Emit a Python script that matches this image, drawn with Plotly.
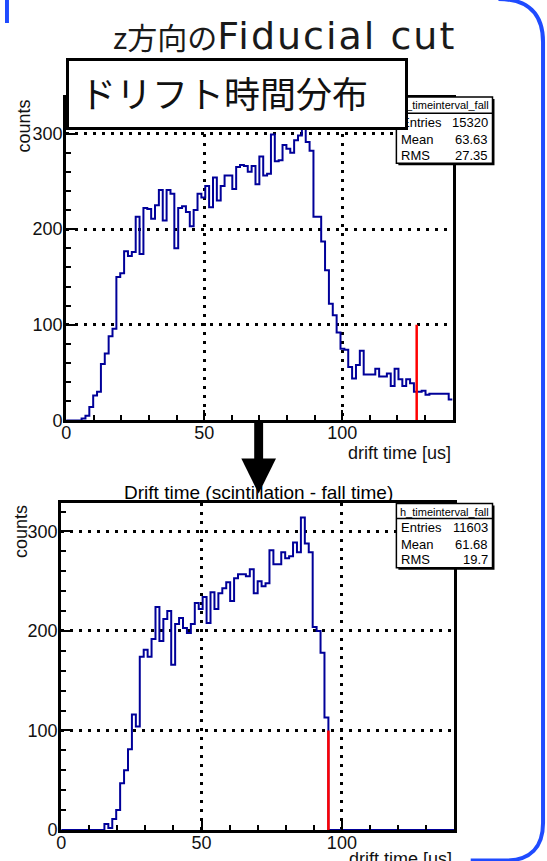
import numpy as np
import plotly.graph_objects as go

W, H = 547, 861          # design (target picture) size in px
FIG_H = 872              # figure height, compensates the vertical squeeze of the capture

# ---------------- data ----------------
n_bins = 100
x_lo, x_hi = 0, 140

top_counts = [0, 0, 0, 0, 2, 5, 14, 26, 30, 59,
              70, 88, 96, 150, 154, 177, 172, 176, 213, 174,
              222, 221, 211, 225, 241, 209, 241, 237, 180, 222,
              224, 218, 203, 220, 237, 233, 245, 223, 254, 230,
              245, 256, 256, 242, 265, 267, 266, 260, 266, 247,
              276, 256, 258, 299, 271, 272, 288, 284, 280, 293,
              298, 306, 291, 282, 213, 213, 187, 157, 122, 110,
              92, 75, 74, 56, 44, 58, 73, 48, 48, 48,
              54, 46, 46, 49, 36, 54, 43, 36, 43, 39,
              30, 30, 31, 27, 28, 28, 28, 28, 28, 22]

bottom_counts = [0, 0, 0, 0, 0, 0, 0, 0, 0, 0,
                 0, 6, 2, 11, 20, 47, 60, 81, 116, 104,
                 174, 181, 174, 192, 224, 190, 212, 220, 166, 207,
                 213, 203, 198, 207, 228, 222, 234, 208, 239, 222,
                 238, 243, 249, 230, 253, 257, 257, 255, 262, 238,
                 250, 245, 248, 281, 267, 267, 279, 273, 275, 289,
                 279, 314, 288, 279, 204, 200, 178, 113, 0, 0,
                 0, 0, 0, 0, 0, 0, 0, 0, 0, 0,
                 0, 0, 0, 0, 0, 0, 0, 0, 0, 0,
                 0, 0, 0, 0, 0, 0, 0, 0, 0, 0]

top_cut_x = 127.0
bottom_cut_x = 95.2
cut_line_height = 100

top_ymax = 337
bottom_ymax = 329

hist_name = "h_timeinterval_fall"
top_stats = [("Entries", "15320"), ("Mean", "63.63"), ("RMS", "27.35")]
bottom_stats = [("Entries", "11603"), ("Mean", "61.68"), ("RMS", "19.7")]

slide_title_jp = "z方向の"
slide_title_en = "Fiducial cut"
box_title = "ドリフト時間分布"
bottom_title = "Drift time (scintillation - fall time)"
x_title = "drift time [us]"
y_title = "counts"

# ---------------- helpers ----------------
def px(x):
    return x / W


def py(y):
    return 1 - y / H


edges = np.linspace(x_lo, x_hi, n_bins + 1)

HIST_COLOR = "#000099"
FONT = "Liberation Sans, Arial, sans-serif"
JFONT = "Noto Sans CJK JP, sans-serif"
BLUE = "#1f4bff"

fig = go.Figure()

fig.add_trace(go.Scatter(
    x=edges, y=list(top_counts) + [top_counts[-1]], mode="lines",
    line=dict(color=HIST_COLOR, width=2, shape="hv"),
    xaxis="x", yaxis="y", showlegend=False, hoverinfo="skip"))
fig.add_trace(go.Scatter(
    x=[top_cut_x, top_cut_x], y=[0, cut_line_height], mode="lines",
    line=dict(color="#ff0000", width=2.5),
    xaxis="x", yaxis="y", showlegend=False, hoverinfo="skip"))

fig.add_trace(go.Scatter(
    x=edges, y=list(bottom_counts) + [bottom_counts[-1]], mode="lines",
    line=dict(color=HIST_COLOR, width=2, shape="hv"),
    xaxis="x2", yaxis="y2", showlegend=False, hoverinfo="skip"))
fig.add_trace(go.Scatter(
    x=[bottom_cut_x, bottom_cut_x], y=[0, cut_line_height], mode="lines",
    line=dict(color="#ff0000", width=2.5),
    xaxis="x2", yaxis="y2", showlegend=False, hoverinfo="skip"))


def xaxis_cfg(domain, anchor):
    return dict(
        domain=domain, anchor=anchor, range=[x_lo, x_hi],
        tickmode="linear", tick0=0, dtick=50,
        ticks="inside", ticklen=10, tickwidth=2, tickcolor="black",
        minor=dict(dtick=10, ticks="inside", ticklen=5, tickwidth=2,
                   tickcolor="black", showgrid=False),
        showline=True, linewidth=3, linecolor="black", mirror=True,
        showgrid=True, gridcolor="black", gridwidth=2.5, griddash="3px,6px",
        zeroline=False, ticklabelstandoff=-6,
        tickfont=dict(family=FONT, size=18, color="#111"),
    )


def yaxis_cfg(domain, anchor, ymax):
    return dict(
        domain=domain, anchor=anchor, range=[0, ymax],
        tickmode="linear", tick0=0, dtick=100,
        ticks="inside", ticklen=10, tickwidth=2, tickcolor="black",
        minor=dict(dtick=20, ticks="inside", ticklen=5, tickwidth=2,
                   tickcolor="black", showgrid=False),
        showline=True, linewidth=3, linecolor="black", mirror=True,
        showgrid=True, gridcolor="black", gridwidth=2.5, griddash="3px,6px",
        zeroline=False, ticklabelstandoff=-3,
        tickfont=dict(family=FONT, size=18, color="#111"),
    )


shapes = []
annotations = []

# slide border (blue rounded frame on the right)
shapes.append(dict(
    type="path", xref="paper", yref="paper",
    path=(f"M {px(498)},{py(-1)} "
          f"C {px(528)},{py(-1)} {px(543)},{py(14)} {px(543)},{py(42)} "
          f"L {px(543)},{py(822)} "
          f"C {px(543)},{py(846)} {px(530)},{py(859.5)} {px(505)},{py(859.5)} "
          f"L {px(470)},{py(859.5)}"),
    line=dict(color=BLUE, width=4)))
shapes.append(dict(type="rect", xref="paper", yref="paper",
                   x0=px(0), x1=px(4), y0=py(0), y1=py(23),
                   fillcolor=BLUE, line=dict(width=0)))

# bottom histogram title (as a shape label so that the arrow can sit on top of it)
shapes.append(dict(type="rect", xref="paper", yref="paper",
                   x0=px(100), x1=px(412), y0=py(500), y1=py(480),
                   line=dict(width=0), fillcolor="rgba(0,0,0,0)",
                   label=dict(text=bottom_title, textposition="middle center",
                              font=dict(family=FONT, size=19, color="black"))))

# arrow
shapes.append(dict(type="rect", xref="paper", yref="paper",
                   x0=px(251.5), x1=px(260.5), y0=py(421), y1=py(459),
                   fillcolor="black", line=dict(width=0)))
shapes.append(dict(type="path", xref="paper", yref="paper",
                   path=f"M {px(238.5)},{py(458)} L {px(273.5)},{py(458)} L {px(256)},{py(493)} Z",
                   fillcolor="black", line=dict(width=0)))


def stats_box(x0, x1, y0, y1, ysep, rows, yrows, yhead):
    shapes.append(dict(type="rect", xref="paper", yref="paper",
                       x0=px(x0 + 2), x1=px(x1 + 2), y0=py(y0 + 2), y1=py(y1 + 2),
                       fillcolor="black", line=dict(width=0)))
    shapes.append(dict(type="rect", xref="paper", yref="paper",
                       x0=px(x0), x1=px(x1), y0=py(y0), y1=py(y1),
                       fillcolor="white", line=dict(color="black", width=1.5)))
    shapes.append(dict(type="line", xref="paper", yref="paper",
                       x0=px(x0), x1=px(x1), y0=py(ysep), y1=py(ysep),
                       line=dict(color="black", width=1.5)))
    annotations.append(dict(xref="paper", yref="paper", x=px((x0 + x1) / 2), y=py(yhead),
                            text=hist_name, showarrow=False, xanchor="center", yanchor="middle",
                            font=dict(family=FONT, size=11, color="black")))
    for (lab, val), yr in zip(rows, yrows):
        annotations.append(dict(xref="paper", yref="paper", x=px(x0 + 3), y=py(yr),
                                text=lab, showarrow=False, xanchor="left", yanchor="middle",
                                font=dict(family=FONT, size=13, color="black")))
        annotations.append(dict(xref="paper", yref="paper", x=px(x1 - 3), y=py(yr),
                                text=val, showarrow=False, xanchor="right", yanchor="middle",
                                font=dict(family=FONT, size=13, color="black")))


stats_box(395, 492, 97, 163, 113, top_stats, [122, 139, 155], 105)
stats_box(395, 492, 503, 567, 518, bottom_stats, [527, 544, 559], 511)

# slide title
title_html = (f'<span style="font-family:Noto Sans CJK JP">{slide_title_jp}</span>'
              f'<span style="font-family:DejaVu Sans;font-size:38px;letter-spacing:2px">{slide_title_en}</span>')
annotations.append(dict(xref="paper", yref="paper", x=px(107), y=py(36),
                        text=title_html, showarrow=False, xanchor="left", yanchor="middle",
                        font=dict(family=JFONT, size=30, color="#1a1a1a")))

# white title box covering the top of the first histogram
annotations.append(dict(xref="paper", yref="paper", x=px(62), y=py(58),
                        text=" ", showarrow=False, xanchor="left", yanchor="top",
                        width=336, height=66, borderpad=0,
                        bgcolor="white", bordercolor="black", borderwidth=3))
annotations.append(dict(xref="paper", yref="paper", x=px(74), y=py(92),
                        text=box_title, showarrow=False, xanchor="left", yanchor="middle",
                        font=dict(family=JFONT, size=36, color="#111")))

# axis titles
for ytop, xc in [(97, 19), (502, 16)]:
    annotations.append(dict(xref="paper", yref="paper", x=px(xc), y=py(ytop),
                            text=y_title, showarrow=False, textangle=-90,
                            xanchor="center", yanchor="top",
                            font=dict(family=FONT, size=18, color="#111")))
for yc, xr in [(452, 452), (858, 453)]:
    annotations.append(dict(xref="paper", yref="paper", x=px(xr), y=py(yc),
                            text=x_title, showarrow=False, xanchor="right", yanchor="middle",
                            font=dict(family=FONT, size=18, color="#111")))

fig.update_layout(
    width=W, height=FIG_H,
    margin=dict(l=0, r=0, t=0, b=0),
    paper_bgcolor="white", plot_bgcolor="white",
    showlegend=False,
    xaxis=xaxis_cfg([px(61.7), px(451.7)], "y"),
    yaxis=yaxis_cfg([py(420), py(98)], "x", top_ymax),
    xaxis2=xaxis_cfg([px(56.7), px(453.3)], "y2"),
    yaxis2=yaxis_cfg([py(829), py(502)], "x2", bottom_ymax),
    shapes=shapes,
    annotations=annotations,
)

post = (
    "document.documentElement.style.margin='0';"
    "document.documentElement.style.overflow='hidden';"
    "document.body.style.margin='0';"
    "document.body.style.padding='0';"
    "document.body.style.overflow='hidden';"
    "var gd=document.getElementById('{plot_id}');"
    "gd.style.position='fixed';gd.style.left='0px';gd.style.top='0px';"
)

fig.write_html("out.html", post_script=post, config={"displayModeBar": False})
